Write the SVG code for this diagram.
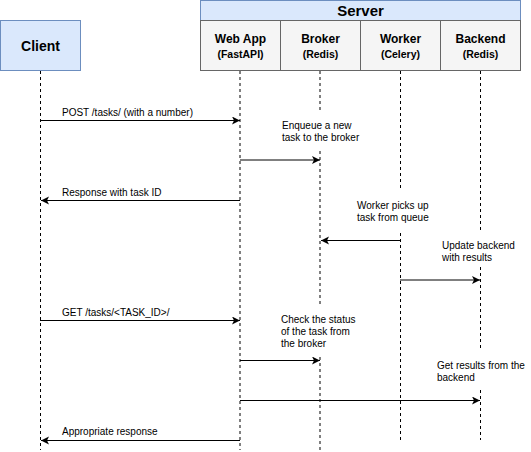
<svg xmlns="http://www.w3.org/2000/svg" width="531" height="452" viewBox="0 0 531 452">
<style>
  .blue { fill: #dae8fc; stroke: #6c8ebf; stroke-width: 1; }
  .cell { fill: #f5f5f5; stroke: #666666; stroke-width: 1; }
  .title { font-family: "Liberation Sans", Arial, sans-serif; font-weight: bold; fill: #000; text-anchor: middle; }
  .sub { font-family: "Liberation Sans", Arial, sans-serif; font-weight: bold; font-size: 10.5px; fill: #000; text-anchor: middle; }
  .lbl { font-family: "Liberation Sans", Arial, sans-serif; font-size: 10px; fill: #000; }
  .life { stroke: #000; stroke-width: 1; stroke-dasharray: 3 3; fill: none; }
  .msg { stroke: #000; stroke-width: 1; fill: none; marker-end: url(#arr); }
</style>
<defs>
  <marker id="arr" markerUnits="userSpaceOnUse" markerWidth="10" markerHeight="10" refX="8" refY="4" orient="auto">
    <path d="M0,0 L8,4 L0,8 L2,4 z" fill="#000"/>
  </marker>
</defs>
<rect width="531" height="452" fill="#ffffff"/>

<g id="client">
  <rect class="blue" x="0.5" y="20.5" width="80" height="50"/>
  <text class="title" x="40.5" y="50.5" font-size="14">Client</text>
</g>

<g id="server">
  <rect class="blue" x="200.5" y="0.5" width="320" height="20"/>
  <text class="title" x="360.5" y="16" font-size="15">Server</text>
</g>

<g id="webapp">
  <rect class="cell" x="200.5" y="20.5" width="80" height="50"/>
  <text class="title" x="240.5" y="43" font-size="12">Web App</text>
  <text class="sub" x="240.5" y="58">(FastAPI)</text>
</g>

<g id="broker">
  <rect class="cell" x="280.5" y="20.5" width="80" height="50"/>
  <text class="title" x="320.5" y="43" font-size="12">Broker</text>
  <text class="sub" x="320.5" y="58">(Redis)</text>
</g>

<g id="worker">
  <rect class="cell" x="360.5" y="20.5" width="80" height="50"/>
  <text class="title" x="400.5" y="43" font-size="12">Worker</text>
  <text class="sub" x="400.5" y="58">(Celery)</text>
</g>

<g id="backend">
  <rect class="cell" x="440.5" y="20.5" width="80" height="50"/>
  <text class="title" x="480.5" y="43" font-size="12">Backend</text>
  <text class="sub" x="480.5" y="58">(Redis)</text>
</g>

<g id="lifelines">
  <line class="life" x1="40.5" y1="71" x2="40.5" y2="450"/>
  <line class="life" x1="240" y1="71" x2="240" y2="450"/>
  <path class="life" d="M320,71 V110 M320,151 V307 M320,357 V450"/>
  <path class="life" d="M400.5,71 V190 M400.5,233 V440"/>
  <path class="life" d="M480.5,71 V230 M480.5,267 V350 M480.5,390 V440"/>
</g>

<g id="connectors">
  <line class="msg" x1="40" y1="120.5" x2="240" y2="120.5"/>
  <line class="msg" x1="240" y1="160" x2="320" y2="160"/>
  <line class="msg" x1="240" y1="200.5" x2="41" y2="200.5"/>
  <line class="msg" x1="400" y1="240.5" x2="321" y2="240.5"/>
  <line class="msg" x1="400" y1="280" x2="480" y2="280"/>
  <line class="msg" x1="40" y1="320.5" x2="240" y2="320.5"/>
  <line class="msg" x1="240" y1="360.5" x2="320" y2="360.5"/>
  <line class="msg" x1="240" y1="400.5" x2="480" y2="400.5"/>
  <line class="msg" x1="240" y1="440.5" x2="41" y2="440.5"/>
</g>

<g id="labels">
  <text class="lbl" x="62" y="115.5">POST /tasks/ (with a number)</text>
  <text class="lbl" x="282" y="129">Enqueue a new</text>
  <text class="lbl" x="282" y="141">task to the broker</text>
  <text class="lbl" x="62" y="195.5">Response with task ID</text>
  <text class="lbl" x="357" y="209">Worker picks up</text>
  <text class="lbl" x="357" y="221">task from queue</text>
  <text class="lbl" x="442" y="249">Update backend</text>
  <text class="lbl" x="442" y="261">with results</text>
  <text class="lbl" x="62" y="315.5">GET /tasks/&lt;TASK_ID&gt;/</text>
  <text class="lbl" x="281" y="322.5">Check the status</text>
  <text class="lbl" x="281" y="334.5">of the task from</text>
  <text class="lbl" x="281" y="346.5">the broker</text>
  <text class="lbl" x="437" y="369">Get results from the</text>
  <text class="lbl" x="437" y="381">backend</text>
  <text class="lbl" x="62" y="434.5">Appropriate response</text>
</g>
</svg>
